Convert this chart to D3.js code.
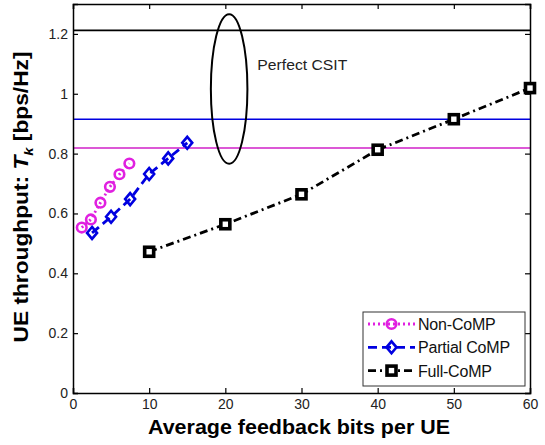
<!DOCTYPE html>
<html>
<head>
<meta charset="utf-8">
<script src="https://cdn.jsdelivr.net/npm/d3@7"></script>
<style>
  body { margin: 0; background: #fff; }
  svg { display: block; font-family: "Liberation Sans", Arial, sans-serif; }
</style>
</head>
<body>
<svg id="chart" width="545" height="445"></svg>
<script>
// data
var xTicks = [0, 10, 20, 30, 40, 50, 60];
var yTicks = [0, 0.2, 0.4, 0.6, 0.8, 1, 1.2];

var nonX = [1.15, 2.35, 3.6, 4.85, 6.1, 7.4];
var nonY = [0.553, 0.58, 0.636, 0.689, 0.731, 0.767];
var partX = [2.5, 5, 7.5, 10, 12.5, 15];
var partY = [0.535, 0.589, 0.648, 0.732, 0.784, 0.836];
var fullX = [10, 20, 30, 40, 50, 60];
var fullY = [0.472, 0.564, 0.664, 0.813, 0.915, 1.019];

// perfect CSIT levels
var perfectY = [1.212, 0.915, 0.819];
var perfectColor = ['#000000', '#0000e0', '#d020c8'];

var seriesNames = ['Non-CoMP', 'Partial CoMP', 'Full-CoMP'];

var svg = d3.select('#chart');
var margin = {left: 73, top: 4, right: 15, bottom: 52};
var W = 545 - margin.left - margin.right,
    H = 445 - margin.top - margin.bottom;

var x = d3.scaleLinear().domain([0, 60]).range([0, W]);
var y = d3.scaleLinear().domain([0, 1.3]).range([H, 0]);

var g = svg.append('g').attr('transform', 'translate(' + margin.left + ',' + margin.top + ')');

// perfect CSIT horizontal lines
perfectY.forEach(function(v, i){
    g.append('line')
        .attr('x1', 0).attr('x2', W)
        .attr('y1', y(v)).attr('y2', y(v))
        .style('stroke', perfectColor[i]).style('stroke-width', 1.6);
});

// ellipse + text
g.append('ellipse')
    .attr('cx', x(20.5)).attr('cy', y(1.016))
    .attr('rx', x(2.4) - x(0)).attr('ry', y(0) - y(0.25))
    .style('fill', 'none').style('stroke', '#000').style('stroke-width', 2);
g.append('text')
    .attr('x', x(24.2)).attr('y', 66)
    .attr('textLength', 90).attr('lengthAdjust', 'spacingAndGlyphs')
    .style('font-size', '15px').style('fill', '#222')
    .text('Perfect CSIT');

// axes (inside ticks, box)
var axB = d3.axisBottom(x).tickValues(xTicks).tickSize(-5).tickPadding(6).tickFormat(d3.format('d'));
var axT = d3.axisTop(x).tickValues(xTicks).tickSize(-5).tickFormat('');
var axL = d3.axisLeft(y).tickValues(yTicks).tickSize(-5).tickPadding(5).tickFormat(function(d){ return d === 0 || d === 1 ? d : d3.format('.1f')(d); });
var axR = d3.axisRight(y).tickValues(yTicks).tickSize(-5).tickFormat('');

g.append('g').attr('transform', 'translate(0,' + H + ')').call(axB);
g.append('g').call(axT);
g.append('g').call(axL);
g.append('g').attr('transform', 'translate(' + W + ',0)').call(axR);
g.selectAll('.domain').style('stroke', '#000').style('stroke-width', 1.5);
g.selectAll('.tick line').style('stroke', '#000').style('stroke-width', 1.2);
g.selectAll('.tick text').style('font-size', '14px').style('fill', '#222');

// series
var line = d3.line().x(function(d){ return x(d[0]); }).y(function(d){ return y(d[1]); });
var series = [
    {name: seriesNames[0], xs: nonX, ys: nonY, color: '#e020e0', dash: '2,3', marker: 'circle'},
    {name: seriesNames[1], xs: partX, ys: partY, color: '#0000e0', dash: '9,5', marker: 'diamond'},
    {name: seriesNames[2], xs: fullX, ys: fullY, color: '#000000', dash: '8,4,2,4', marker: 'square'}
];

function drawMarker(sel, kind, color, cx, cy){
    if(kind === 'circle'){
        sel.append('circle').attr('cx', cx).attr('cy', cy).attr('r', 4.8)
            .style('fill', 'none').style('stroke', color).style('stroke-width', 2.6);
    } else if(kind === 'diamond'){
        sel.append('path').attr('d', 'M' + cx + ',' + (cy - 6) + 'L' + (cx + 5) + ',' + cy + 'L' + cx + ',' + (cy + 6) + 'L' + (cx - 5) + ',' + cy + 'Z')
            .style('fill', 'none').style('stroke', color).style('stroke-width', 2.6);
    } else {
        sel.append('rect').attr('x', cx - 4.5).attr('y', cy - 4.5).attr('width', 9).attr('height', 9)
            .style('fill', '#fff').style('stroke', color).style('stroke-width', 3.6);
    }
}

series.forEach(function(s){
    var pts = s.xs.map(function(v, i){ return [v, s.ys[i]]; });
    g.append('path').datum(pts).attr('d', line)
        .style('fill', 'none').style('stroke', s.color).style('stroke-width', 2.8)
        .style('stroke-dasharray', s.dash);
    pts.forEach(function(p){ drawMarker(g, s.marker, s.color, x(p[0]), y(p[1])); });
});

// legend
var lg = svg.append('g').attr('transform', 'translate(363,312)');
lg.append('rect').attr('width', 162).attr('height', 74)
    .style('fill', '#fff').style('stroke', '#333').style('stroke-width', 1);
series.forEach(function(s, i){
    var yy = 12 + i * 23.3;
    lg.append('line').attr('x1', 5).attr('x2', 52).attr('y1', yy).attr('y2', yy)
        .style('stroke', s.color).style('stroke-width', 2.8).style('stroke-dasharray', s.dash);
    drawMarker(lg, s.marker, s.color, 28.5, yy);
    lg.append('text').attr('x', 55).attr('y', yy + 6)
        .style('font-size', '16px').style('fill', '#111').style('letter-spacing', '-0.2px')
        .text(s.name);
});

// axis labels
svg.append('text')
    .attr('x', 299).attr('y', 434)
    .attr('text-anchor', 'middle')
    .attr('textLength', 302).attr('lengthAdjust', 'spacingAndGlyphs')
    .style('font-size', '20px').style('font-weight', 'bold').style('fill', '#000')
    .text('Average feedback bits per UE');

var yl = svg.append('text')
    .attr('transform', 'translate(28,197) rotate(-90)')
    .attr('text-anchor', 'middle')
    .attr('textLength', 291).attr('lengthAdjust', 'spacingAndGlyphs')
    .style('font-size', '20px').style('font-weight', 'bold').style('fill', '#000');
yl.append('tspan').text('UE throughput: ');
yl.append('tspan').style('font-style', 'italic').text('T');
yl.append('tspan').style('font-style', 'italic').style('font-size', '13px').attr('dy', 5).text('k');
yl.append('tspan').attr('dy', -5).text(' [bps/Hz]');
</script>
</body>
</html>
